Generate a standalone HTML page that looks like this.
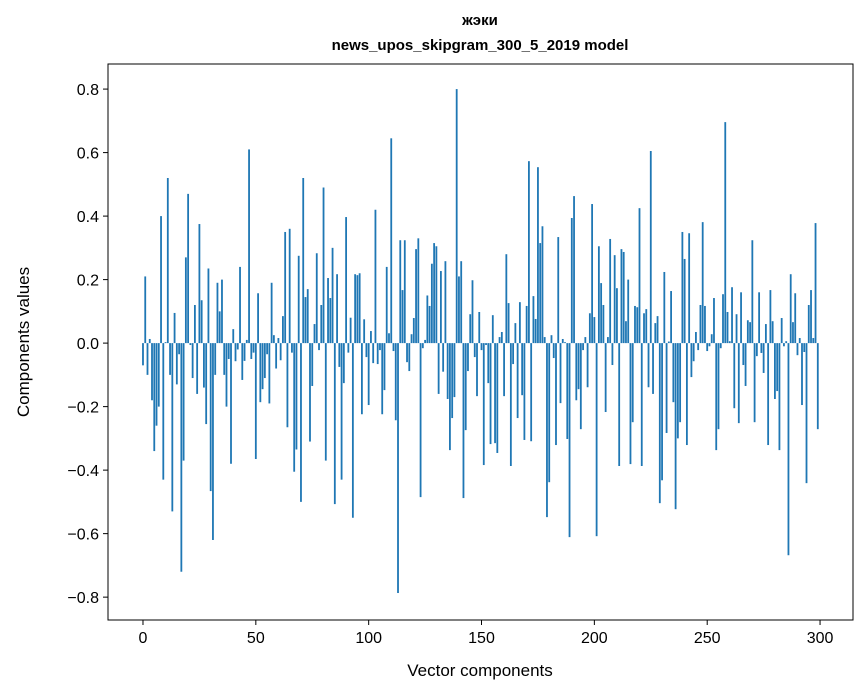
<!DOCTYPE html>
<html><head><meta charset="utf-8">
<style>
html,body{margin:0;padding:0;background:#fff;}
svg{display:block;font-family:"Liberation Sans","DejaVu Sans",sans-serif;}
</style></head>
<body>
<svg id="chart" width="867" height="696" viewBox="0 0 867 696" xmlns="http://www.w3.org/2000/svg">
<rect width="867" height="696" fill="#fff"/>
<text x="480" y="25" text-anchor="middle" font-size="15" font-weight="bold">жэки</text>
<text x="480" y="50" text-anchor="middle" font-size="15" font-weight="bold">news_upos_skipgram_300_5_2019 model</text>
<g id="bars"></g>
<g id="axes"></g>
<text x="480" y="676" text-anchor="middle" font-size="17">Vector components</text>
<text transform="translate(29,342) rotate(-90)" text-anchor="middle" font-size="17">Components values</text>
</svg>
<script>
const values = [
-0.07,0.21,-0.10,0.013,-0.18,-0.34,-0.26,-0.20,0.40,-0.43,0.003,
0.52,-0.10,-0.53,0.095,-0.13,-0.035,-0.72,-0.37,0.27,0.47,
-0.006,-0.11,0.12,-0.16,0.375,0.135,-0.14,-0.255,0.235,-0.466,
-0.62,-0.10,0.19,0.10,0.20,-0.10,-0.20,-0.05,-0.38,0.044,
-0.057,-0.02,0.24,-0.116,-0.056,0.01,0.61,-0.05,-0.03,-0.365,
0.157,-0.186,-0.145,-0.11,-0.035,-0.19,0.19,0.025,-0.08,0.016,
-0.054,0.085,0.35,-0.265,0.36,-0.03,-0.405,-0.335,0.275,-0.50,
0.52,0.145,0.17,-0.31,-0.135,0.06,0.283,-0.022,0.12,0.49,
-0.37,0.205,0.142,0.30,-0.507,0.217,-0.075,-0.43,-0.126,0.397,
-0.03,0.08,-0.55,0.217,0.214,0.22,-0.224,0.075,-0.044,-0.195,
0.038,-0.063,0.42,-0.066,-0.022,-0.224,-0.148,0.24,0.031,0.645,
-0.025,-0.243,-0.787,0.324,0.167,0.324,-0.06,-0.088,0.028,0.079,
0.296,0.33,-0.485,-0.016,0.01,0.15,0.117,0.25,0.315,0.305,
-0.16,0.227,-0.09,0.258,-0.176,-0.337,-0.236,-0.17,0.80,0.21,
0.258,-0.488,-0.274,-0.088,0.091,0.198,-0.044,-0.167,0.098,-0.022,
-0.384,-0.006,-0.126,-0.318,0.088,-0.315,-0.346,0.019,0.035,-0.167,
0.28,0.126,-0.387,-0.066,0.063,-0.236,0.129,-0.164,-0.305,0.117,
0.573,-0.309,0.148,0.076,0.554,0.315,0.368,0.019,-0.548,-0.438,
0.025,-0.047,-0.321,0.334,-0.189,0.013,0.003,-0.302,-0.611,0.394,
0.463,-0.18,-0.145,-0.271,-0.022,0.019,-0.139,0.094,0.438,0.082,
-0.608,0.305,0.189,0.12,-0.217,0.019,0.328,-0.069,0.277,0.173,
-0.387,0.296,0.287,0.069,0.2,-0.381,-0.249,0.117,0.113,0.425,
-0.387,0.094,0.107,-0.139,0.605,-0.16,0.063,0.085,-0.504,-0.432,
0.224,-0.283,0.005,0.164,-0.186,-0.523,-0.30,-0.249,0.35,0.265,
-0.321,0.346,-0.107,-0.057,0.035,-0.022,0.12,0.381,0.117,-0.025,
-0.01,0.028,0.142,-0.337,-0.271,-0.016,0.154,0.696,0.098,0.006,
0.176,-0.205,0.091,-0.252,0.16,-0.069,-0.135,0.072,0.066,0.324,
-0.249,-0.041,0.16,-0.031,-0.094,0.06,-0.321,0.167,0.069,-0.176,
-0.151,-0.337,0.079,-0.01,0.006,-0.668,0.217,0.066,0.157,-0.038,
0.016,-0.195,-0.028,-0.441,0.12,0.167,0.016,0.378,-0.271
];
const xTicks = [0,50,100,150,200,250,300];
const yTicks = [-0.8,-0.6,-0.4,-0.2,0.0,0.2,0.4,0.6,0.8];

const L=108,R=853,T=64,B=620;
const xMin=-15.5,xMax=314.6,yMin=-0.872,yMax=0.879;
const sx=v=>L+(v-xMin)/(xMax-xMin)*(R-L);
const sy=v=>B-(v-yMin)/(yMax-yMin)*(B-T);
const NS="http://www.w3.org/2000/svg";
const bars=document.getElementById('bars');
values.forEach((v,i)=>{
  const r=document.createElementNS(NS,'rect');
  const x0=sx(i-0.4),x1=sx(i+0.4);
  const y0=sy(Math.max(v,0)),y1=sy(Math.min(v,0));
  r.setAttribute('x',x0);r.setAttribute('width',x1-x0);
  r.setAttribute('y',y0);r.setAttribute('height',Math.max(y1-y0,0.01));
  r.setAttribute('fill','#1f77b4');
  
  
  bars.appendChild(r);
});
const axes=document.getElementById('axes');
const frame=document.createElementNS(NS,'rect');
frame.setAttribute('x',L);frame.setAttribute('y',T);frame.setAttribute('width',R-L);frame.setAttribute('height',B-T);
frame.setAttribute('fill','none');frame.setAttribute('stroke','#000');frame.setAttribute('stroke-width','1');


axes.appendChild(frame);
xTicks.forEach(t=>{
  const x=sx(t);
  const l=document.createElementNS(NS,'line');
  l.setAttribute('x1',x);l.setAttribute('x2',x);l.setAttribute('y1',B);l.setAttribute('y2',B+5);l.setAttribute('stroke','#000');
  
  
  axes.appendChild(l);
  const s=document.createElementNS(NS,'text');
  s.setAttribute('x',x);s.setAttribute('y',B+23);s.setAttribute('text-anchor','middle');s.setAttribute('font-size','16');
  s.textContent=t;
  
  
  axes.appendChild(s);
});
yTicks.forEach(t=>{
  const y=sy(t);
  const l=document.createElementNS(NS,'line');
  l.setAttribute('x1',L-5);l.setAttribute('x2',L);l.setAttribute('y1',y);l.setAttribute('y2',y);l.setAttribute('stroke','#000');
  
  
  axes.appendChild(l);
  const s=document.createElementNS(NS,'text');
  s.setAttribute('x',L-9);s.setAttribute('y',y+6);s.setAttribute('text-anchor','end');s.setAttribute('font-size','16');
  s.textContent=(t<0?'\u2212':'')+Math.abs(t).toFixed(1);
  
  
  axes.appendChild(s);
});
</script>
</body></html>
